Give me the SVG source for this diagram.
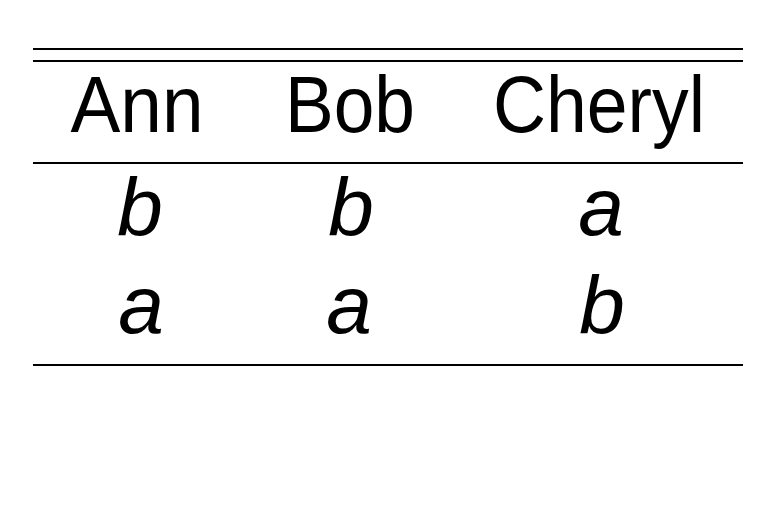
<svg xmlns="http://www.w3.org/2000/svg" width="770" height="518" viewBox="0 0 770 518">
<style>
.rule{stroke:#000;stroke-width:2;fill:none}
.h{font-family:"Liberation Sans",Arial,sans-serif;font-size:80px;fill:#000;text-anchor:middle}
.v{font-family:"Liberation Sans",Arial,sans-serif;font-size:82px;font-style:italic;fill:#000;text-anchor:middle}
</style>
<rect width="770" height="518" fill="#fff"/>
<g id="rules">
<line class="rule" x1="33" y1="49" x2="743" y2="49"/>
<line class="rule" x1="33" y1="61" x2="743" y2="61"/>
<line class="rule" x1="33" y1="163" x2="743" y2="163"/>
<line class="rule" x1="33" y1="365" x2="743" y2="365"/>
</g>
<g id="header">
<text class="h" x="137" y="132" textLength="133" lengthAdjust="spacingAndGlyphs">Ann</text>
<text class="h" x="350" y="132" textLength="130" lengthAdjust="spacingAndGlyphs">Bob</text>
<text class="h" x="599" y="132" textLength="212" lengthAdjust="spacingAndGlyphs">Cheryl</text>
</g>
<g id="row1">
<text class="v" x="140" y="235">b</text>
<text class="v" x="351" y="235">b</text>
<text class="v" x="601" y="235">a</text>
</g>
<g id="row2">
<text class="v" x="141" y="333">a</text>
<text class="v" x="349" y="333">a</text>
<text class="v" x="602" y="333">b</text>
</g>
</svg>
